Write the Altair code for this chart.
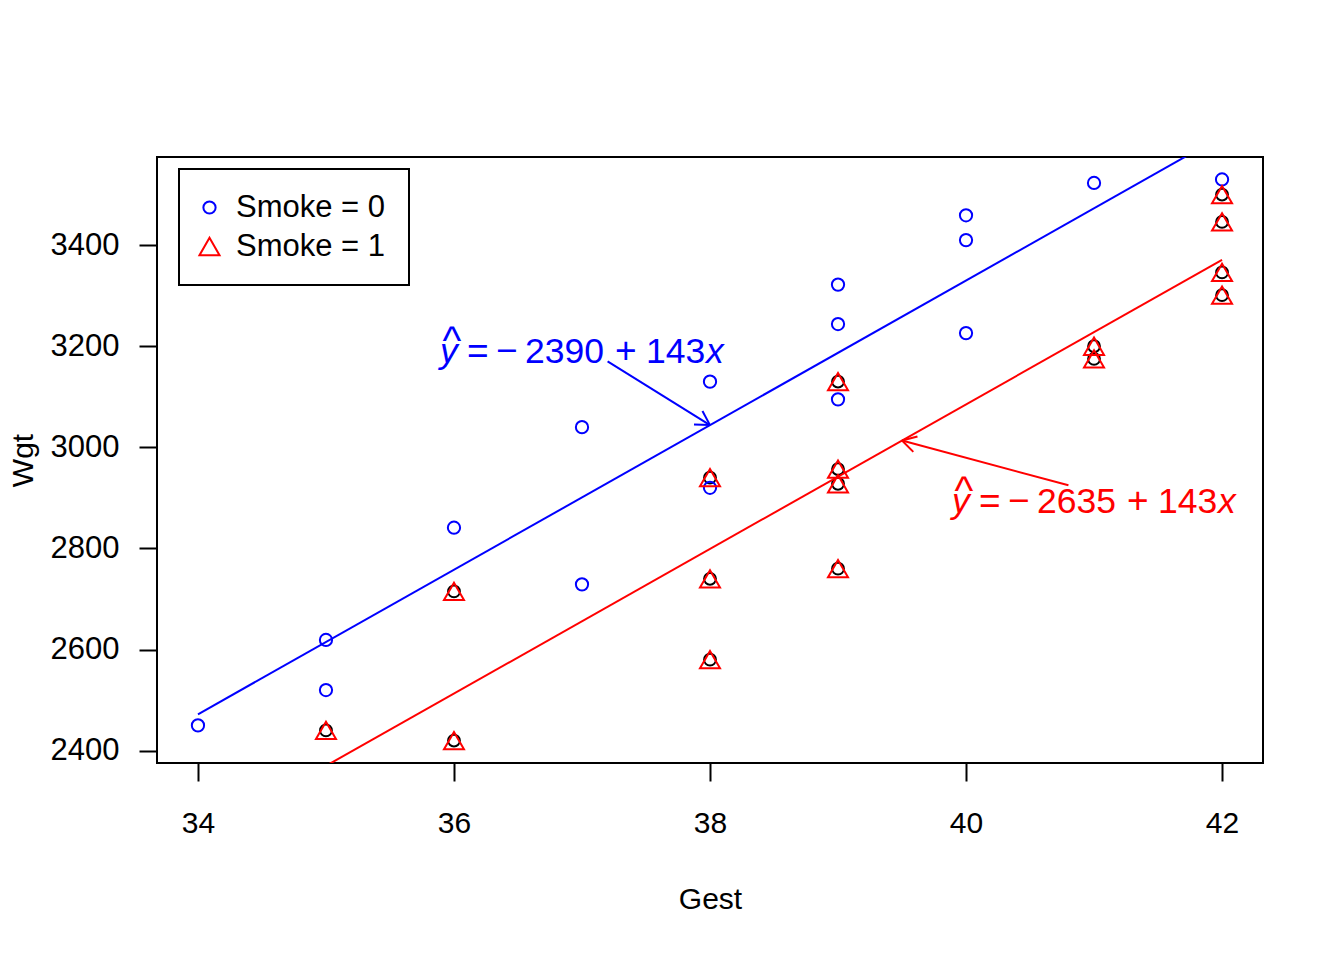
import math
import altair as alt
import pandas as pd

# ---------------- data ----------------
gest_nonsmoke = [34, 35, 35, 36, 37, 37, 38, 38, 39, 39, 39, 40, 40, 40, 41, 42]
wgt_nonsmoke = [2450, 2619, 2520, 2841, 3040, 2729, 3130, 2920, 3322, 3244, 3095, 3459, 3410, 3226, 3523, 3530]
gest_smoke = [35, 36, 36, 38, 38, 38, 39, 39, 39, 39, 41, 41, 42, 42, 42, 42]
wgt_smoke = [2440, 2715, 2420, 2940, 2740, 2580, 3130, 2957, 2928, 2760, 3200, 3175, 3500, 3446, 3346, 3301]

smoke_labels = ["Smoke = 0", "Smoke = 1"]
fit_intercepts = [-2390, -2635]
fit_slope = 143
fit_x_range = [34, 42]

x_ticks = [34, 36, 38, 40, 42]
y_ticks = [2400, 2600, 2800, 3000, 3200, 3400]

# annotation anchors (data coordinates)
arrow_start_x = [37.2, 40.8]
arrow_start_y = [3170, 2925]
arrow_tip_x = [38.0, 39.5]
label_x = [35.89, 39.89]
label_y = [3167, 2870]

# ---------------- layout ----------------
W, H = 1106, 606
XD = [33.68, 42.32]
YD = [2375.6, 3574.4]
FONT = "Liberation Sans"
COLS = ["blue", "red"]


def to_px(x, y):
    return ((x - XD[0]) / (XD[1] - XD[0]) * W, (YD[1] - y) / (YD[1] - YD[0]) * H)


def to_data(px, py):
    return (XD[0] + px / W * (XD[1] - XD[0]), YD[1] - py / H * (YD[1] - YD[0]))


xs = alt.Scale(domain=XD, nice=False, zero=False)
ys = alt.Scale(domain=YD, nice=False, zero=False)

x_axis = alt.Axis(values=x_ticks, title="Gest", titleX=W / 2, titleY=145, format="d",
                  titleBaseline="alphabetic", titleAlign="center")
y_axis = alt.Axis(values=y_ticks, title="Wgt", titleX=-125, titleY=H / 2, format="d",
                  titleBaseline="alphabetic", titleAlign="center", labelPadding=20,
                  labelFontSize=31)


def X(field):
    return alt.X(field, scale=xs, axis=x_axis)


def Y(field):
    return alt.Y(field, scale=ys, axis=y_axis)


points = pd.DataFrame({
    "Gest": gest_nonsmoke + gest_smoke,
    "Wgt": wgt_nonsmoke + wgt_smoke,
    "Smoke": [smoke_labels[0]] * len(gest_nonsmoke) + [smoke_labels[1]] * len(gest_smoke),
})
smoke_df = pd.DataFrame({"Gest": gest_smoke, "Wgt": wgt_smoke})

# black circles beneath triangles
under = alt.Chart(smoke_df).mark_point(shape="circle", color="black", size=140,
                                      strokeWidth=2, filled=False, opacity=1).encode(
    x=X("Gest:Q"), y=Y("Wgt:Q"),
)

pts = alt.Chart(points).mark_point(filled=False, strokeWidth=2, opacity=1).encode(
    x=X("Gest:Q"), y=Y("Wgt:Q"),
    color=alt.Color("Smoke:N", scale=alt.Scale(domain=smoke_labels, range=COLS), legend=alt.Legend(title=None)),
    shape=alt.Shape("Smoke:N", scale=alt.Scale(domain=smoke_labels, range=["circle", "triangle-up"]), legend=alt.Legend(title=None)),
    size=alt.Size("Smoke:N", scale=alt.Scale(domain=smoke_labels, range=[150, 400]), legend=alt.Legend(title=None)),
)

layers = [under, pts]
for i in range(2):
    b = fit_intercepts[i]
    ldf = pd.DataFrame({"Gest": fit_x_range, "Wgt": [b + fit_slope * g for g in fit_x_range]})
    layers.append(alt.Chart(ldf).mark_line(color=COLS[i], strokeWidth=2, clip=True).encode(
        x=X("Gest:Q"), y=Y("Wgt:Q")))

    # arrow: shaft + two head strokes, computed in pixel space
    tip = (arrow_tip_x[i], b + fit_slope * arrow_tip_x[i])
    start = (arrow_start_x[i], arrow_start_y[i])
    tp, sp = to_px(*tip), to_px(*start)
    dx, dy = tp[0] - sp[0], tp[1] - sp[1]
    n = math.hypot(dx, dy)
    bx, by = -dx / n, -dy / n
    segs = [(start, tip)]
    for ang in (math.radians(30), math.radians(-30)):
        rx = bx * math.cos(ang) - by * math.sin(ang)
        ry = bx * math.sin(ang) + by * math.cos(ang)
        segs.append((tip, to_data(tp[0] + 16 * rx, tp[1] + 16 * ry)))
    adf = pd.DataFrame({"Gest": [s[0][0] for s in segs], "Wgt": [s[0][1] for s in segs],
                        "x2": [s[1][0] for s in segs], "y2": [s[1][1] for s in segs]})
    layers.append(alt.Chart(adf).mark_rule(color=COLS[i], strokeWidth=2).encode(
        x=X("Gest:Q"), y=Y("Wgt:Q"), x2="x2:Q", y2="y2:Q"))

    # equation text pieces
    tdf = pd.DataFrame({"Gest": [label_x[i]], "Wgt": [label_y[i]]})
    pieces = [
        ("y", 0, 0, "italic", 35.5, "left"),
        ("^", 12, -9, "normal", 40, "center"),
        ("=", 27, 0, "normal", 37, "left"),
        ("\u2212", 56, 0, "normal", 37, "left"),
        (str(abs(b)), 85, 0, "normal", 35.5, "left"),
        ("+", 175, 0, "normal", 37, "left"),
        (str(fit_slope), 206, 0, "normal", 35.5, "left"),
        ("x", 266, 0, "italic", 35.5, "left"),
    ]
    for txt, ddx, ddy, style, fs, al in pieces:
        layers.append(alt.Chart(tdf).mark_text(
            text=txt, dx=ddx, dy=ddy, fontStyle=style, fontSize=fs, align=al,
            baseline="alphabetic", color=COLS[i], font=FONT).encode(
            x=X("Gest:Q"), y=Y("Wgt:Q")))

chart = alt.layer(*layers).properties(
    width=W, height=H,
    autosize=alt.AutoSizeParams(type="none"),
    padding={"left": 157, "top": 157, "right": 81, "bottom": 197},
).configure(font=FONT).configure_view(
    stroke="black", strokeWidth=2
).configure_axis(
    domain=False, grid=False, tickSize=18, tickWidth=2, tickColor="black",
    labelFontSize=30, labelColor="black", labelFont=FONT,
    titleFontSize=30, titleFontWeight="normal", titleColor="black", titleFont=FONT,
).configure_axisX(labelPadding=27).configure_legend(
    orient="none", legendX=22, legendY=12, strokeColor="black", strokeWidth=2,
    padding=23, rowPadding=7, labelFontSize=31, labelFont=FONT, labelColor="black",
    labelOffset=11, symbolStrokeWidth=2, symbolOffset=-8,
)

chart.save("out.html", embed_options={"renderer": "svg", "actions": False})
